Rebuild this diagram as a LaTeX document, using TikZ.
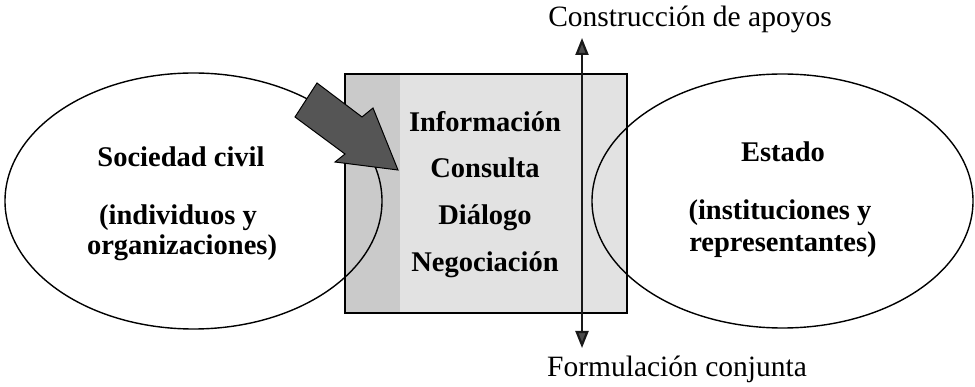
\documentclass[tikz,border=0pt]{standalone}
\usepackage{fontspec}
\setmainfont{Liberation Serif}
\usetikzlibrary{arrows.meta,shapes.geometric}
\definecolor{boxlight}{HTML}{E2E2E2}
\definecolor{boxstrip}{HTML}{CACACA}
\definecolor{arrowgray}{HTML}{555555}
\tikzset{
  bigtext/.style={font=\fontsize{28.5}{30}\selectfont\bfseries, anchor=base, inner sep=0pt},
  smalltext/.style={font=\fontsize{29.5}{31}\selectfont, anchor=base, inner sep=0pt},
  oval/.style={ellipse, draw, line width=1.4pt, inner sep=0pt},
  midbox/.style={draw, line width=1.8pt, fill=boxlight, inner sep=0pt},
  axisline/.style={line width=2.2pt, draw=black!90, {Triangle[length=17pt,width=13pt,fill=black!70]}-{Triangle[length=17pt,width=13pt,fill=black!70]}}
}
\begin{document}
\begin{tikzpicture}[x=1pt,y=-1pt]
\useasboundingbox (0,0) rectangle (975,387);
\fill[white] (0,0) rectangle (975,387);
% central box
\node[midbox, minimum width=282pt, minimum height=239pt] (box) at (486,193.5) {};
\fill[boxstrip] (345.9,74.9) rectangle (400,312.1);
% ellipses
\node[oval, minimum width=377pt, minimum height=256pt] (soc) at (193.5,201) {};
\node[oval, minimum width=381pt, minimum height=254pt] (est) at (782.5,201) {};
% texts in ellipses
\node[bigtext] (soc1) at (181,167) {Sociedad civil};
\node[bigtext] (soc2) at (178,225) {(individuos y};
\node[bigtext] (soc3) at (182,255) {organizaciones)};
\node[bigtext] (est1) at (783,162) {Estado};
\node[bigtext] (est2) at (780,220) {(instituciones y};
\node[bigtext] (est3) at (783,252) {representantes)};
% texts in box
\node[bigtext] (t1) at (485,132) {Información};
\node[bigtext] (t2) at (485,178) {Consulta};
\node[bigtext] (t3) at (485,225) {Diálogo};
\node[bigtext] (t4) at (485,272) {Negociación};
% vertical axis
\coordinate (axtop) at (582,38);
\coordinate (axbot) at (582,348);
\draw[axisline] (axbot) -- (axtop);
\node[smalltext] (lbltop) at (690,27) {Construcción de apoyos};
\node[smalltext] (lblbot) at (677,377) {Formulación conjunta};
% big arrow
\draw[line width=1pt, fill=arrowgray, line join=miter]
  (317,83) -- (362,117) -- (373,108) -- (398,170) -- (335,162) -- (345,154) -- (295,117) -- cycle;
\end{tikzpicture}
\end{document}
